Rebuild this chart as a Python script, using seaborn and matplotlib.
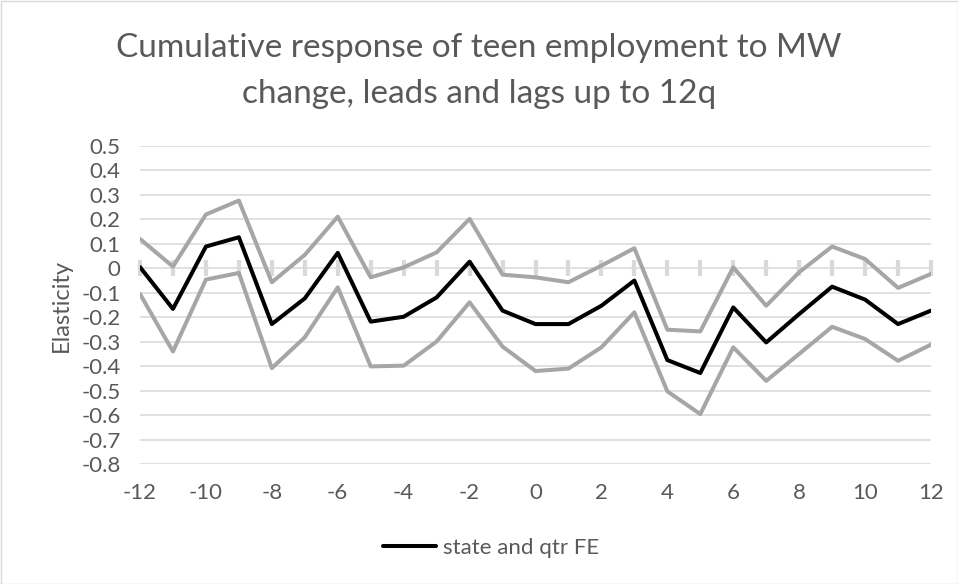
import matplotlib
matplotlib.use("Agg")
import matplotlib.pyplot as plt
import seaborn as sns
import pandas as pd
from matplotlib.patches import Rectangle
from matplotlib.ticker import MultipleLocator, FixedLocator, NullFormatter

quarters = list(range(-12, 13))
estimate = [0.005, -0.166, 0.089, 0.127, -0.228, -0.123, 0.063, -0.218, -0.198, -0.119, 0.027, -0.173,
            -0.228, -0.228, -0.153, -0.05, -0.375, -0.428, -0.16, -0.303, -0.187, -0.075, -0.128, -0.228, -0.173]
upper = [0.12, 0.007, 0.22, 0.277, -0.057, 0.055, 0.211, -0.037, 0.004, 0.065, 0.202, -0.026,
         -0.037, -0.057, 0.011, 0.082, -0.251, -0.258, 0.004, -0.153, -0.016, 0.089, 0.038, -0.08, -0.023]
lower = [-0.105, -0.34, -0.046, -0.019, -0.408, -0.282, -0.078, -0.401, -0.398, -0.299, -0.139, -0.32,
         -0.42, -0.41, -0.323, -0.18, -0.503, -0.596, -0.323, -0.46, -0.35, -0.239, -0.289, -0.378, -0.312]
y_ticks = [round(-0.8 + 0.1 * i, 1) for i in range(14)]
x_ticks = list(range(-12, 13, 2))

title = "Cumulative response of teen employment to MW\nchange, leads and lags up to 12q"
series_name = "state and qtr FE"

sns.set_theme(style="white")
FONT = ["Lato", "DejaVu Sans"]
plt.rcParams["font.family"] = FONT
TXT = "#595959"
FS = 16

df = pd.DataFrame({"q": quarters, "est": estimate, "up": upper, "lo": lower})

fig = plt.figure(figsize=(9.58, 5.84), dpi=100)
ax = fig.add_axes([140 / 958, 1 - 464 / 584, (931 - 140) / 958, (464 - 146) / 584])

ax.set_xlim(-12, 12)
ax.set_ylim(-0.8, 0.5)
ax.yaxis.set_major_locator(FixedLocator(y_ticks))
ax.xaxis.set_major_locator(FixedLocator(x_ticks))
ax.grid(axis="y", color="#d9d9d9", linewidth=1.1)
ax.grid(axis="x", visible=False)
for s in ax.spines.values():
    s.set_visible(False)

# zero axis with tick marks crossing it
sec = ax.secondary_xaxis(0.8 / 1.3)
sec.xaxis.set_major_locator(MultipleLocator(1))
sec.xaxis.set_major_formatter(NullFormatter())
sec.tick_params(axis="x", which="both", direction="inout", length=12, width=3, color="#d9d9d9",
                labelbottom=False, labeltop=False)
sec.spines["bottom"].set_color("#d9d9d9")
sec.spines["bottom"].set_linewidth(3.2)
sec.spines["top"].set_visible(False)

sns.lineplot(data=df, x="q", y="up", ax=ax, color="#a6a6a6", linewidth=2.9, legend=False, zorder=3)
sns.lineplot(data=df, x="q", y="lo", ax=ax, color="#a6a6a6", linewidth=2.9, legend=False, zorder=3)
sns.lineplot(data=df, x="q", y="est", ax=ax, color="#000000", linewidth=2.9, label=series_name, zorder=4)
if ax.get_legend():
    ax.get_legend().remove()

ax.set_yticks(y_ticks)
ax.set_yticklabels([("0" if v == 0 else f"{v:g}") for v in y_ticks], fontsize=FS, color=TXT)
ax.set_xticks(x_ticks)
ax.set_xticklabels([str(v) for v in x_ticks], fontsize=FS, color=TXT)
ax.tick_params(axis="both", length=0, pad=14)
ax.set_xlabel("")
ax.set_ylabel("Elasticity", fontsize=17, color=TXT, labelpad=7)

fig.text(0.5, 1 - 71 / 584, title, ha="center", va="center", fontsize=24, color=TXT,
         linespacing=1.65)

handles, labels = ax.get_legend_handles_labels()
fig.legend(handles, labels, loc="center", bbox_to_anchor=(491 / 958, 1 - 548 / 584), frameon=False,
           fontsize=FS, labelcolor=TXT, handlelength=2.4, handletextpad=0.3)

fig.patches.append(Rectangle((0.5 / 958, 0.5 / 584), 1 - 1 / 958, 1 - 1 / 584, transform=fig.transFigure,
                             fill=False, edgecolor="#d9d9d9", linewidth=1))

fig.savefig("out.png", dpi=100)
